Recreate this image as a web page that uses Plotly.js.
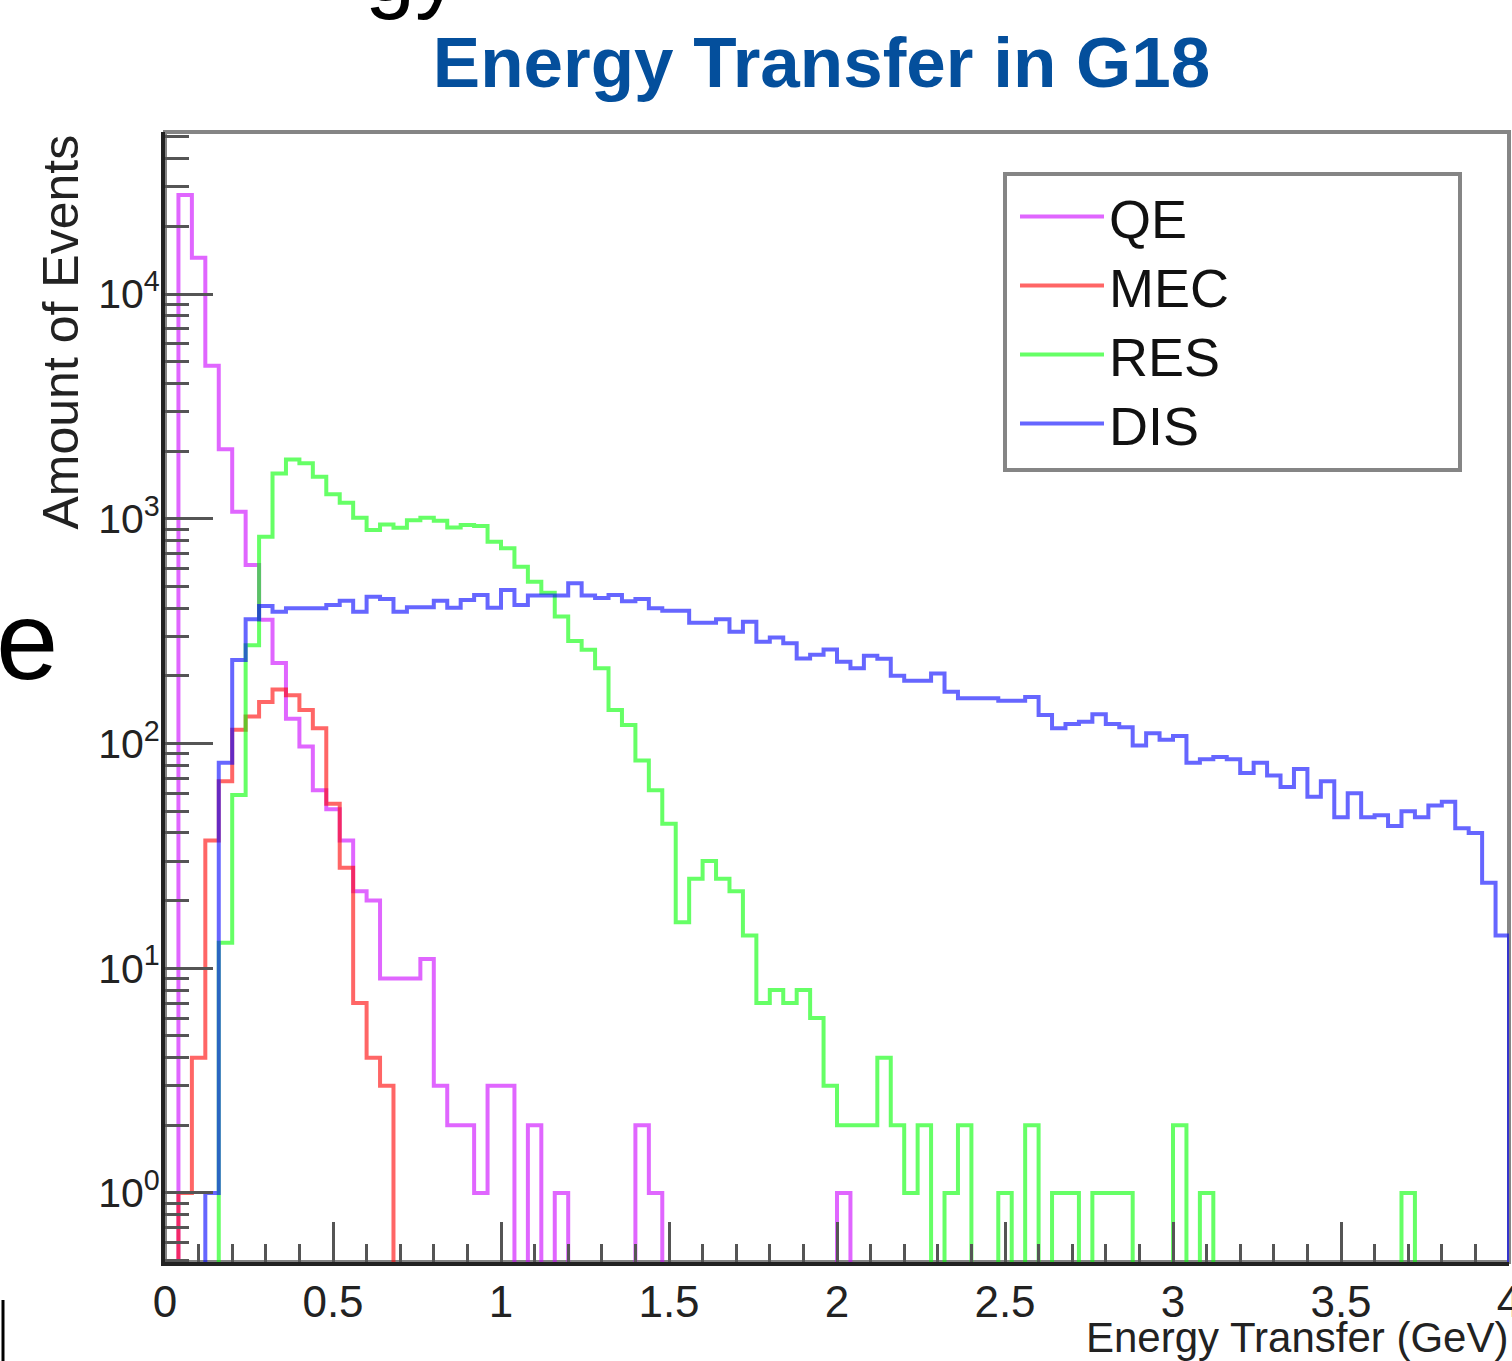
<!DOCTYPE html>
<html>
<head>
<meta charset="utf-8">
<script src="https://cdn.plot.ly/plotly-3.0.1.min.js"></script>
<style>
  html, body { margin: 0; padding: 0; background: #ffffff; }
  #chart { width: 1512px; height: 1361px; }
</style>
</head>
<body>
<div id="chart"></div>
<script>
// Histogram bin edges (GeV), 100 bins of 0.04 GeV from 0 to 4
const binEdges = [
  0,0.04,0.08,0.12,0.16,0.2,0.24,0.28,0.32,0.36,
  0.4,0.44,0.48,0.52,0.56,0.6,0.64,0.68,0.72,0.76,
  0.8,0.84,0.88,0.92,0.96,1,1.04,1.08,1.12,1.16,
  1.2,1.24,1.28,1.32,1.36,1.4,1.44,1.48,1.52,1.56,
  1.6,1.64,1.68,1.72,1.76,1.8,1.84,1.88,1.92,1.96,
  2,2.04,2.08,2.12,2.16,2.2,2.24,2.28,2.32,2.36,
  2.4,2.44,2.48,2.52,2.56,2.6,2.64,2.68,2.72,2.76,
  2.8,2.84,2.88,2.92,2.96,3,3.04,3.08,3.12,3.16,
  3.2,3.24,3.28,3.32,3.36,3.4,3.44,3.48,3.52,3.56,
  3.6,3.64,3.68,3.72,3.76,3.8,3.84,3.88,3.92,3.96,
  4
];

const seriesNames = ["QE", "MEC", "RES", "DIS"];

const qeCounts = [
  0,27600,14500,4800,2040,1075,623,355,228,129,
  97,62,51,37,22,20,9,9,9,11,
  3,2,2,1,3,3,0,2,0,1,
  0,0,0,0,0,2,1,0,0,0,
  0,0,0,0,0,0,0,0,0,0,
  1,0,0,0,0,0,0,0,0,0,
  0,0,0,0,0,0,0,0,0,0,
  0,0,0,0,0,0,0,0,0,0,
  0,0,0,0,0,0,0,0,0,0,
  0,0,0,0,0,0,0,0,0,0
];

const mecCounts = [
  0,1,4,37,68,115,132,153,174,164,
  141,117,54,28,7,4,3,0,0,0,
  0,0,0,0,0,0,0,0,0,0,
  0,0,0,0,0,0,0,0,0,0,
  0,0,0,0,0,0,0,0,0,0,
  0,0,0,0,0,0,0,0,0,0,
  0,0,0,0,0,0,0,0,0,0,
  0,0,0,0,0,0,0,0,0,0,
  0,0,0,0,0,0,0,0,0,0,
  0,0,0,0,0,0,0,0,0,0
];

const resCounts = [
  0,0,0,0,13,59,274,832,1592,1837,
  1766,1539,1285,1178,1011,891,944,912,986,1011,
  980,915,938,929,791,739,612,525,469,367,
  286,261,216,141,121,84,62,44,16,25,
  30,25,22,14,7,8,7,8,6,3,
  2,2,2,4,2,1,2,0,1,2,
  0,0,1,0,2,0,1,1,0,1,
  1,1,0,0,0,2,0,1,0,0,
  0,0,0,0,0,0,0,0,0,0,
  0,0,1,0,0,0,0,0,0,0
];

const disCounts = [
  0,0,0,1,82,235,357,409,386,400,
  400,400,413,432,386,450,440,386,404,404,
  432,402,435,458,402,482,413,455,455,455,
  516,455,444,458,430,440,400,390,390,345,
  345,357,314,348,284,296,279,239,248,262,
  231,216,246,238,200,190,190,205,170,159,
  159,159,155,155,161,134,117,122,125,135,
  122,118,98,111,104,108,82,85,87,85,
  74,82,72,64,77,58,68,47,60,47,
  48,43,50,47,53,55,42,40,24,14
];

const yTickVals = [1, 10, 100, 1000, 10000];
const yTickText = ["10<sup>0</sup>", "10<sup>1</sup>", "10<sup>2</sup>", "10<sup>3</sup>", "10<sup>4</sup>"];

// Empty bins cannot sit on a log axis: draw them below the visible range (as ROOT does)
const FLOOR = 1e-3;

const SANS = "Liberation Sans, Arial, Helvetica, sans-serif";

function stepTrace(name, counts, color, legendId) {
  const xs = [], ys = [];
  for (let i = 0; i < counts.length; i++) {
    xs.push(binEdges[i]);
    ys.push(counts[i] > 0 ? counts[i] : FLOOR);
  }
  const last = counts[counts.length - 1];
  xs.push(binEdges[counts.length]); ys.push(last > 0 ? last : FLOOR);
  xs.push(binEdges[counts.length]); ys.push(FLOOR);
  return {
    type: "scatter", mode: "lines", name: name,
    x: xs, y: ys,
    line: { shape: "hv", color: color, width: 4 },
    legend: legendId,
    hoverinfo: "skip"
  };
}

const colors = ["rgba(204,0,255,0.6)", "rgba(255,0,0,0.6)", "rgba(0,255,0,0.6)", "rgba(0,0,255,0.6)"];
const countsList = [qeCounts, mecCounts, resCounts, disCounts];
const legendIds = ["legend", "legend2", "legend3", "legend4"];

const data = seriesNames.map((n, i) => stepTrace(n, countsList[i], colors[i], legendIds[i]));

// plot area in pixels: x 165..1509, y 132..1262
const PL = 165, PR = 1509, PT = 132, PB = 1262;
const px = v => (v - PL) / (PR - PL);
const py = v => (PB - v) / (PB - PT);

const legendCentersPx = [217, 286, 355, 424];
function legendDef(i) {
  return {
    x: px(1015), xanchor: "left",
    y: py(legendCentersPx[i]), yanchor: "middle",
    bgcolor: "rgba(0,0,0,0)", borderwidth: 0,
    font: { family: SANS, size: 54, color: "#111" },
    itemwidth: 84,
    itemclick: false, itemdoubleclick: false
  };
}

const layout = {
  width: 1512, height: 1361,
  margin: { l: PL, r: 1512 - PR, t: PT, b: 1361 - PB, pad: 0 },
  paper_bgcolor: "#ffffff", plot_bgcolor: "#ffffff",
  showlegend: true,
  legend: legendDef(0), legend2: legendDef(1), legend3: legendDef(2), legend4: legendDef(3),
  title: {
    text: "<b>Energy Transfer in G18</b>",
    font: { family: SANS, size: 71, color: "#044f9c" },
    xref: "container", x: 821.5 / 1512, xanchor: "center",
    yref: "container", y: 1 - 62 / 1361, yanchor: "middle"
  },
  xaxis: {
    range: [0, 4],
    showgrid: false, zeroline: false,
    showline: true, linecolor: "#222", linewidth: 4, mirror: false,
    ticks: "inside", ticklen: 40, tickwidth: 3, tickcolor: "#555",
    tick0: 0, dtick: 0.5,
    tickfont: { family: SANS, size: 44, color: "#222" },
    ticklabelstandoff: -2,
    ticklabeloverflow: "allow",
    minor: { ticks: "inside", ticklen: 18, tickwidth: 3, tickcolor: "#555", dtick: 0.1, showgrid: false }
  },
  yaxis: {
    type: "log",
    range: [Math.log10(0.493), 4.721],
    showgrid: false, zeroline: false,
    showline: true, linecolor: "#222", linewidth: 4, mirror: false,
    ticks: "inside", ticklen: 48, tickwidth: 3, tickcolor: "#555",
    tickmode: "array", tickvals: yTickVals, ticktext: yTickText,
    tickfont: { family: SANS, size: 41, color: "#222" },
    ticklabelstandoff: -7,
    minor: { ticks: "inside", ticklen: 24, tickwidth: 3, tickcolor: "#555", dtick: "D1", showgrid: false }
  },
  shapes: [
    { type: "rect", xref: "paper", yref: "paper", x0: 0, x1: 1, y0: 0, y1: 1,
      line: { color: "#858585", width: 4 }, layer: "below" },
    { type: "rect", xref: "paper", yref: "paper", x0: px(1005), x1: px(1460), y0: py(470), y1: py(174),
      line: { color: "#858585", width: 4 }, fillcolor: "rgba(0,0,0,0)", layer: "above" },
    { type: "line", xref: "paper", yref: "paper", x0: px(3), x1: px(3), y0: py(1300), y1: py(1361),
      line: { color: "#000", width: 3 } }
  ],
  annotations: [
    { text: "Amount of Events", textangle: -90, showarrow: false,
      xref: "paper", x: px(60), xanchor: "center",
      yref: "paper", y: py(133), yanchor: "top",
      font: { family: SANS, size: 50, color: "#222" } },
    { text: "Energy Transfer (GeV)", showarrow: false,
      xref: "paper", x: px(1510), xanchor: "right",
      yref: "paper", y: py(1337), yanchor: "middle",
      font: { family: SANS, size: 42, color: "#222" } },
    { text: "e", showarrow: false,
      xref: "paper", x: px(-6), xanchor: "left",
      yref: "paper", y: py(640), yanchor: "middle",
      font: { family: SANS, size: 112, color: "#000" } },
    { text: "gy", showarrow: false,
      xref: "paper", x: px(462), xanchor: "right",
      yref: "paper", y: py(-30), yanchor: "middle",
      font: { family: SANS, size: 90, color: "#000" } }
  ]
};

Plotly.newPlot("chart", data, layout, { displayModeBar: false, staticPlot: true });
</script>
</body>
</html>
